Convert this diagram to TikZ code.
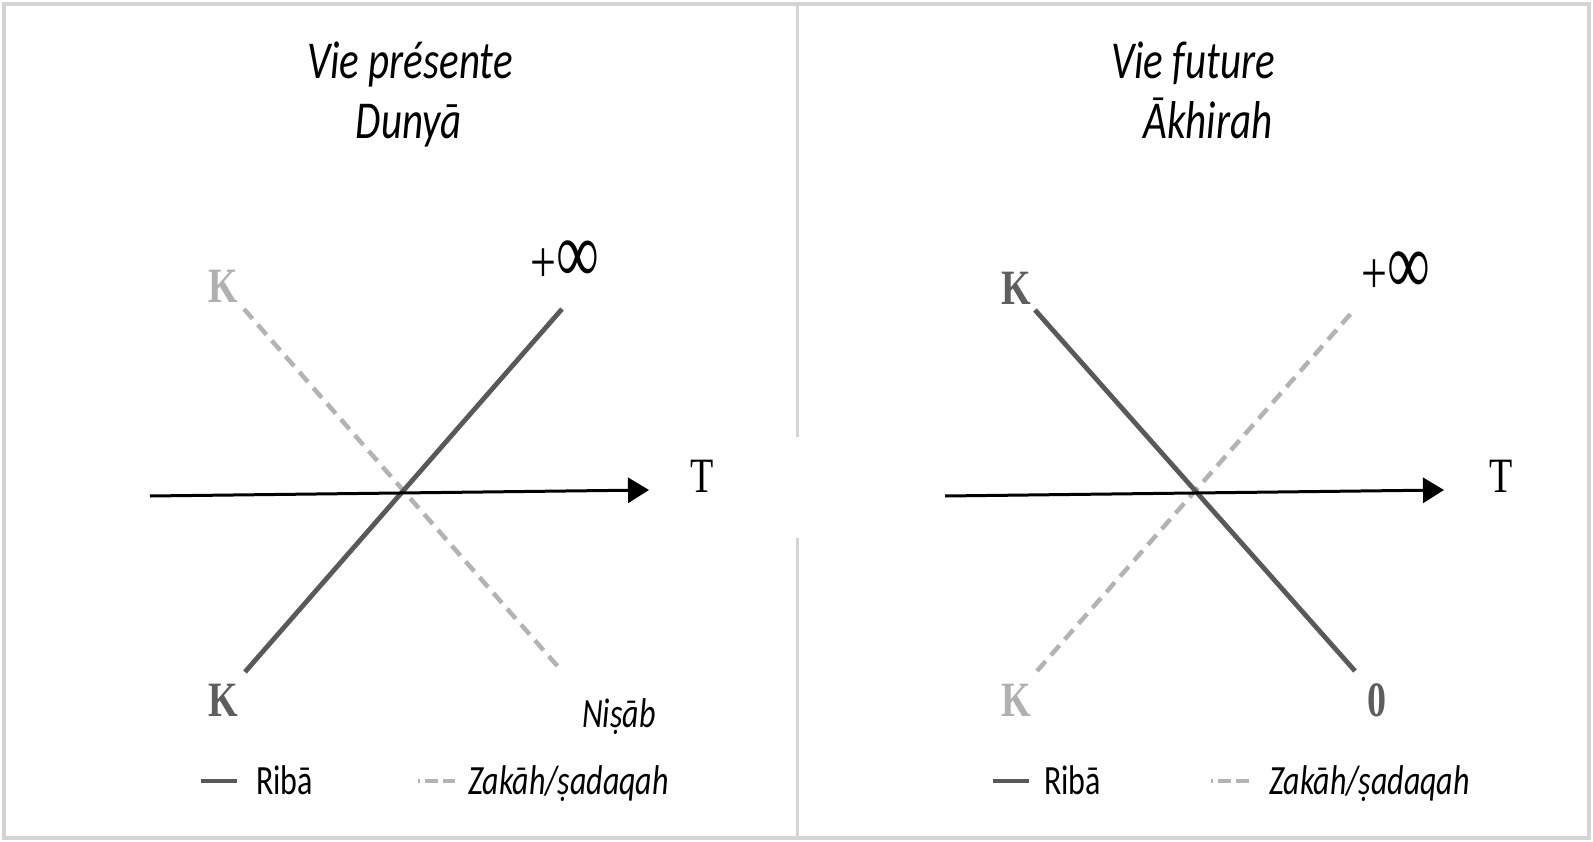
\documentclass[tikz,border=0pt]{standalone}
\usepackage{fontspec}
\usepackage{graphicx}
\setmainfont{Carlito}
\newfontfamily\tnr{Liberation Serif}
\usetikzlibrary{arrows.meta}
\definecolor{riba}{HTML}{595959}
\definecolor{zak}{HTML}{B3B3B3}
\definecolor{framec}{HTML}{D4D4D4}
\definecolor{kgrey}{HTML}{B0B0B0}
\definecolor{kdark}{HTML}{5E5E5E}
\newcommand{\vs}[1]{\scalebox{1}[1.3]{#1}}
\newcommand{\pinf}{\scalebox{1}[1.3]{\fontsize{46}{50}\selectfont+}\scalebox{1}[1.45]{\fontsize{60}{64}\selectfont∞}}
\begin{document}
\begin{tikzpicture}[x=1pt,y=-1pt,
 ribaline/.style={draw=riba,line width=4.8pt},
 zakline/.style={draw=zak,line width=4.5pt,dash pattern=on 13pt off 8pt},
 axisline/.style={draw=black,line width=3pt,-{Triangle[length=21pt,width=25pt]}},
 titletxt/.style={inner sep=0pt,anchor=base,font=\fontsize{41}{48}\selectfont\itshape},
 serif/.style={inner sep=0pt,anchor=base,font=\tnr\bfseries\fontsize{38}{44}\selectfont},
 inftxt/.style={inner sep=0pt,anchor=base,font=\tnr},
 legtxt/.style={inner sep=0pt,anchor=base west,font=\fontsize{32}{38}\selectfont},
 framel/.style={draw=framec,line width=3.5pt},
]
\useasboundingbox (0,0) rectangle (1593,842);
\draw[framel] (4,4) rectangle (1589,838);
% divider
\coordinate (d1) at (797,6);
\coordinate (d2) at (797,437);
\coordinate (d3) at (797,538);
\coordinate (d4) at (797,836);
\draw[framel,line width=3pt] (d1) -- (d2);
\draw[framel,line width=3pt] (d3) -- (d4);

% ---------- left panel ----------
\node[titletxt] (t1a) at (410,79) {\vs{Vie présente}};
\node[titletxt] (t1b) at (409,139) {\vs{Dunyā}};
\coordinate (la1) at (150,496);
\coordinate (la2) at (649,490);
\coordinate (ls1) at (245,672);
\coordinate (ls2) at (562,309);
\coordinate (lz1) at (244,309);
\coordinate (lz2) at (560,669);
\draw[zakline] (lz1) -- (lz2);
\draw[ribaline] (ls1) -- (ls2);
\draw[axisline] (la1) -- (la2);
\node[serif,font=\tnr\fontsize{38}{44}\selectfont] (lT) at (702,492) {\vs{T}};
\node[serif,text=kgrey] (lK1) at (223,303) {\vs{K}};
\node[serif,text=kdark] (lK2) at (223,716) {\vs{K}};
\node[inftxt] (linf) at (565,283) {\pinf};
\node[inner sep=0pt,anchor=base,font=\fontsize{32}{38}\selectfont\itshape] (lnis) at (619,727) {\vs{Niṣāb}};
% legend
\coordinate (lg1) at (201,781);
\coordinate (lg2) at (237,781);
\coordinate (lg3) at (418,781);
\coordinate (lg4) at (455,781);
\draw[ribaline] (lg1) -- (lg2);
\draw[zakline,dash pattern=on 2pt off 5pt on 13pt off 5pt on 13pt off 20pt] (lg3) -- (lg4);
\node[legtxt] (lr) at (256,794) {\vs{Ribā}};
\node[legtxt,font=\fontsize{32}{38}\selectfont\itshape] (lzk) at (468,794) {\vs{Zakāh/ṣadaqah}};

% ---------- right panel ----------
\node[titletxt] (t2a) at (1193,79) {\vs{Vie future}};
\node[titletxt] (t2b) at (1208,139) {\vs{Ākhirah}};
\coordinate (ra1) at (945,496);
\coordinate (ra2) at (1444,490);
\coordinate (rs1) at (1035,310);
\coordinate (rs2) at (1355,671);
\coordinate (rz1) at (1037,671);
\coordinate (rz2) at (1354,310);
\draw[zakline] (rz1) -- (rz2);
\draw[ribaline] (rs1) -- (rs2);
\draw[axisline] (ra1) -- (ra2);
\node[serif,font=\tnr\fontsize{38}{44}\selectfont] (rT) at (1501,492) {\vs{T}};
\node[serif,text=kdark] (rK1) at (1016,305) {\vs{K}};
\node[serif,text=kgrey] (rK2) at (1016,716) {\vs{K}};
\node[inftxt] (rinf) at (1396,294) {\pinf};
\node[serif,text=kdark] (r0) at (1377,716) {\vs{0}};
% legend
\coordinate (rg1) at (993,781);
\coordinate (rg2) at (1029,781);
\coordinate (rg3) at (1211,781);
\coordinate (rg4) at (1249,781);
\draw[ribaline] (rg1) -- (rg2);
\draw[zakline,dash pattern=on 2pt off 5pt on 13pt off 5pt on 13pt off 20pt] (rg3) -- (rg4);
\node[legtxt] (rr) at (1044,794) {\vs{Ribā}};
\node[legtxt,font=\fontsize{32}{38}\selectfont\itshape] (rzk) at (1269,794) {\vs{Zakāh/ṣadaqah}};
\end{tikzpicture}
\end{document}
